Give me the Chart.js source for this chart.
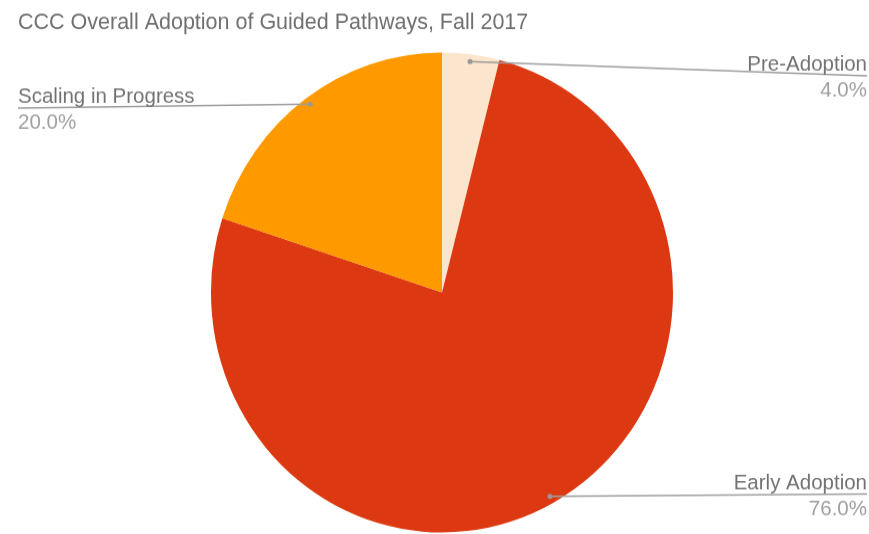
<!DOCTYPE html>
<html>
<head>
<meta charset="utf-8">
<script src="https://cdn.jsdelivr.net/npm/chart.js@4.4.1/dist/chart.umd.min.js"></script>
<style>
  html, body { margin: 0; padding: 0; background: #fff; }
  /* the reference is slightly taller than wide, so the canvas is drawn at 869x514 and shown at 869x534 */
  #pieChart { display: block; width: 869px; height: 534px; }
</style>
</head>
<body>
<canvas id="pieChart" width="869" height="514" style="width:869px;height:534px"></canvas>
<script>
// Chart data
const titleText = "CCC Overall Adoption of Guided Pathways, Fall 2017";
const categories = ["Pre-Adoption", "Early Adoption", "Scaling in Progress"];
const shares = [4, 76, 20];
const sliceColors = ["#fce5cd", "#dc3912", "#ff9900"];

// where each callout label sits (side of the chart + y of its leader line, canvas units)
const calloutSide = ["right", "right", "left"];
const calloutLineY = [73, 475.5, 104];

const FONT = "'Liberation Sans', Arial, sans-serif";

// Draws the title and the leader-line callouts after the pie
const calloutPlugin = {
    id: "callouts",
    afterDraw(chart) {
        const ctx = chart.ctx;
        ctx.save();

        // title
        ctx.fillStyle = "#707070";
        ctx.font = "21.5px " + FONT;
        ctx.textAlign = "left";
        ctx.textBaseline = "alphabetic";
        ctx.fillText(titleText, 18, 28);

        const arcs = chart.getDatasetMeta(0).data;
        arcs.forEach((arc, i) => {
            const mid = (arc.startAngle + arc.endAngle) / 2;
            const r = arc.outerRadius * 0.97;
            const dx = arc.x + Math.cos(mid) * r;
            const dy = arc.y + Math.sin(mid) * r;
            const lineY = calloutLineY[i];
            const endX = calloutSide[i] === "right" ? 867 : 18;

            ctx.strokeStyle = "#9e9e9e";
            ctx.lineWidth = 1.5;
            ctx.beginPath();
            ctx.moveTo(dx, dy);
            ctx.lineTo(endX, lineY);
            ctx.stroke();

            ctx.fillStyle = "#999";
            ctx.beginPath();
            ctx.arc(dx, dy, 2.5, 0, Math.PI * 2);
            ctx.fill();

            ctx.textAlign = calloutSide[i] === "right" ? "right" : "left";
            ctx.font = "20.5px " + FONT;
            ctx.fillStyle = "#727272";
            ctx.fillText(categories[i], endX, lineY - 5);
            ctx.fillStyle = "#a0a0a0";
            ctx.fillText(shares[i].toFixed(1) + "%", endX, lineY + 20);
        });

        ctx.restore();
    }
};

const pieChart = new Chart(document.getElementById("pieChart"), {
    type: "pie",
    data: {
        labels: categories,
        datasets: [{
            data: shares,
            backgroundColor: sliceColors,
            borderWidth: 0,
            hoverOffset: 0,
            offset: 0
        }]
    },
    options: {
        responsive: false,
        animation: false,
        devicePixelRatio: 1,
        layout: { padding: { top: 50.5, bottom: 1.5, left: 15, right: 0 } },
        plugins: {
            legend: { display: false },
            tooltip: { enabled: false },
            title: { display: false }
        }
    },
    plugins: [calloutPlugin]
});
</script>
</body>
</html>
